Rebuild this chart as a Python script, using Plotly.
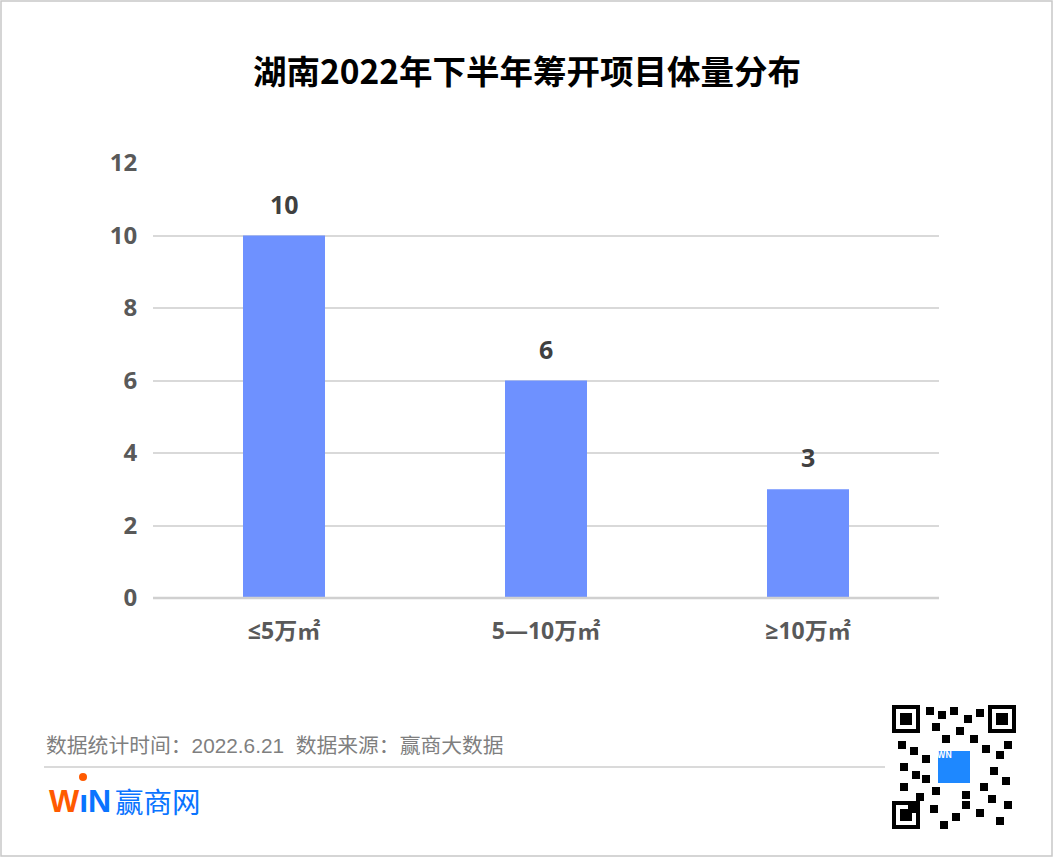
import plotly.graph_objects as go

categories = ["≤5万㎡", "5—10万㎡", "≥10万㎡"]
values = [10, 6, 3]
y_ticks = [0, 2, 4, 6, 8, 10, 12]

title_text = "湖南2022年下半年筹开项目体量分布"
footer_text = "数据统计时间：2022.6.21  数据来源：赢商大数据"

W, H = 1053, 858
L, R, T, B = 153, 114, 163, 260
PH = H - T - B
PW = W - L - R

def py(p):
    return (H - B - p) / PH

def px(p):
    return (p - L) / PW

NUMFONT = "Open Sans, Noto Sans CJK SC"

fig = go.Figure()
fig.add_trace(go.Bar(
    x=categories, y=values,
    marker=dict(color="#6E91FF", line=dict(width=0)),
    width=0.313, hoverinfo="skip",
))

for c, v in zip(categories, values):
    fig.add_annotation(x=c, y=v, text="<b>%d</b>" % v, showarrow=False,
                       xanchor="center", yanchor="middle", yshift=32,
                       font=dict(family=NUMFONT, size=25, color="#404040"))

fig.update_layout(
    width=W, height=H,
    margin=dict(l=L, r=R, t=T, b=B),
    paper_bgcolor="white", plot_bgcolor="white",
    showlegend=False,
    font=dict(family="Noto Sans CJK SC"),
    title=dict(text="<b>" + title_text + "</b>", x=527 / W, xref="container", xanchor="center",
               y=1 - 72 / H, yanchor="middle",
               font=dict(family="Noto Sans CJK SC", size=33.5, color="#000000")),
    xaxis=dict(showgrid=False, showline=False, zeroline=False,
               ticks="outside", ticklen=12, tickcolor="rgba(0,0,0,0)",
               tickfont=dict(family=NUMFONT, size=23, color="#595959", weight="bold")),
    yaxis=dict(range=[0, 12], tickvals=y_ticks, showgrid=True, gridcolor="#d9d9d9", gridwidth=1.5,
               zeroline=False, showline=False,
               ticks="outside", ticklen=10, tickcolor="rgba(0,0,0,0)",
               tickfont=dict(family=NUMFONT, size=24, color="#595959", weight="bold")),
    bargap=0.687,
)

# baseline
fig.add_shape(type="line", xref="paper", yref="paper", x0=0, x1=1, y0=0, y1=0,
              line=dict(color="#d0d0d0", width=2.5))

# outer frame
fig.add_shape(type="rect", xref="paper", yref="paper",
              x0=px(1), x1=px(W - 1), y0=py(1), y1=py(H - 2),
              line=dict(color="#c8c8c8", width=1.5), fillcolor="rgba(0,0,0,0)")

# footer text
fig.add_annotation(text=footer_text, xref="paper", yref="paper", x=px(44), y=py(745),
                   xanchor="left", yanchor="middle", showarrow=False,
                   font=dict(family="Liberation Sans, Noto Sans CJK SC", size=20.8, color="#7f7f7f"))
# footer line
fig.add_shape(type="line", xref="paper", yref="paper", x0=px(44), x1=px(885), y0=py(767), y1=py(767),
              line=dict(color="#dadada", width=2))

# logo
fig.add_annotation(text="<b><span style='color:#FF5A00'>W</span><span style='color:#0A74FF'>ı</span><span style='color:#0A74FF'>N</span></b>",
                   xref="paper", yref="paper", x=px(47), y=py(801), xanchor="left", yanchor="middle",
                   showarrow=False, font=dict(family="Liberation Sans", size=32))
fig.add_shape(type="circle", xref="paper", yref="paper", x0=px(79), x1=px(87), y0=py(781), y1=py(773),
              fillcolor="#FF5A00", line=dict(width=0))
fig.add_annotation(text="赢商网", xref="paper", yref="paper", x=px(113), y=py(800),
                   xanchor="left", yanchor="middle", showarrow=False,
                   font=dict(family="Noto Sans CJK SC", size=28.5, color="#0A74FF"))

# QR code placeholder: finder patterns + center logo
qx0, qy0, qs = 892, 705, 124
def sq(x0, y0, s, fill):
    fig.add_shape(type="rect", xref="paper", yref="paper",
                  x0=px(x0), x1=px(x0 + s), y0=py(y0 + s), y1=py(y0),
                  line=dict(width=0), fillcolor=fill)
for (fx, fy) in [(qx0, qy0), (qx0 + qs - 28, qy0), (qx0, qy0 + qs - 28)]:
    sq(fx, fy, 28, "#000")
    sq(fx + 4, fy + 4, 20, "#fff")
    sq(fx + 8, fy + 8, 12, "#000")
mods = [(34, 2), (46, 6), (58, 2), (72, 10), (84, 4), (40, 18), (64, 22), (6, 36), (18, 42), (30, 50),
        (90, 40), (104, 46), (8, 58), (20, 66), (98, 62), (110, 72), (40, 82), (70, 86), (96, 90),
        (38, 100), (60, 108), (84, 104), (104, 112), (48, 116), (70, 96), (112, 96), (8, 78), (24, 88),
        (50, 30), (78, 30), (30, 70), (88, 78), (16, 100), (112, 36)]
for (mx, my) in mods:
    sq(qx0 + mx, qy0 + my, 8, "#000")
sq(qx0 + 46, qy0 + 46, 32, "#1E88FF")
fig.add_annotation(text="<b>WN</b>", xref="paper", yref="paper", x=px(qx0 + 62), y=py(qy0 + 58),
                   showarrow=False, font=dict(size=9, color="white"))

fig.write_html("out.html", config={"displayModeBar": False},
               post_script="document.body.style.margin='0';document.body.style.overflow='hidden';")
